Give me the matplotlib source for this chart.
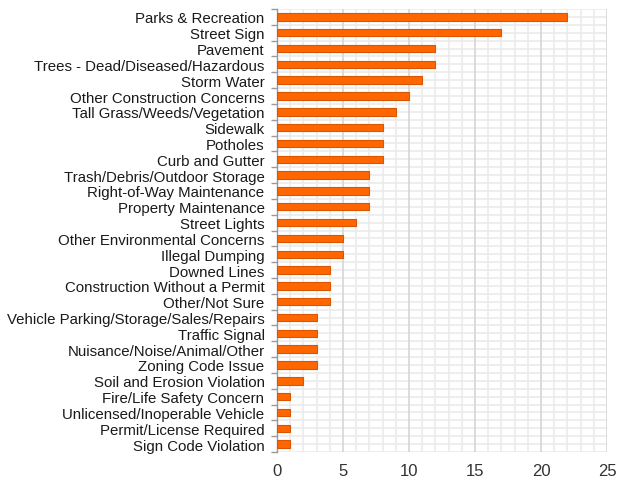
import numpy as np
import matplotlib
matplotlib.use("Agg")
import matplotlib.pyplot as plt

categories = [
    "Parks & Recreation", "Street Sign", "Pavement",
    "Trees - Dead/Diseased/Hazardous", "Storm Water",
    "Other Construction Concerns", "Tall Grass/Weeds/Vegetation",
    "Sidewalk", "Potholes", "Curb and Gutter",
    "Trash/Debris/Outdoor Storage", "Right-of-Way Maintenance",
    "Property Maintenance", "Street Lights", "Other Environmental Concerns",
    "Illegal Dumping", "Downed Lines", "Construction Without a Permit",
    "Other/Not Sure", "Vehicle Parking/Storage/Sales/Repairs",
    "Traffic Signal", "Nuisance/Noise/Animal/Other", "Zoning Code Issue",
    "Soil and Erosion Violation", "Fire/Life Safety Concern",
    "Unlicensed/Inoperable Vehicle", "Permit/License Required",
    "Sign Code Violation",
]
counts = [22, 17, 12, 12, 11, 10, 9, 8, 8, 8, 7, 7, 7, 6, 5, 5, 4, 4, 4,
          3, 3, 3, 3, 2, 1, 1, 1, 1]
x_ticks = [0, 5, 10, 15, 20, 25]

plt.rcParams["font.family"] = ["Liberation Sans", "DejaVu Sans"]

fig = plt.figure(figsize=(6.21, 4.85), dpi=100)
ax = fig.add_axes([277 / 621, 32 / 485, 330 / 621, 443 / 485])

n = len(categories)
y = np.arange(n)
ax.barh(y, counts, height=0.47, color="#ff6600", edgecolor="#d95500",
        linewidth=0.8, zorder=3)

ax.set_xlim(0, 25)
ax.set_ylim(n - 0.5, -0.5)

# grid: minor every 1, major every 5, horizontal lines at category edges
ax.set_xticks(x_ticks)
ax.set_xticks(np.arange(0, 26, 1), minor=True)
ax.grid(which="minor", axis="x", color="#ebebeb", linewidth=1.2, zorder=0)
ax.grid(which="major", axis="x", color="#d6d6d6", linewidth=1.2, zorder=1)
for b in np.arange(-0.5, n, 0.5):
    ax.axhline(b, color="#ebebeb", linewidth=1.2, zorder=0)

ax.set_yticks(y)
ax.set_yticklabels(categories, fontsize=10.8, color="#1a1a1a")
ax.tick_params(axis="y", which="major", length=0, pad=9)
ax.set_yticks(np.arange(-0.5, n, 1), minor=True)
ax.tick_params(axis="y", which="minor", length=4, color="#999999", width=1)

ax.tick_params(axis="x", which="both", length=0, pad=8, labelsize=12,
               labelcolor="#333333")

for s in ["top", "right", "bottom"]:
    ax.spines[s].set_visible(False)
ax.spines["left"].set_color("#999999")
ax.spines["left"].set_linewidth(1)

fig.savefig("out.png", dpi=100)
